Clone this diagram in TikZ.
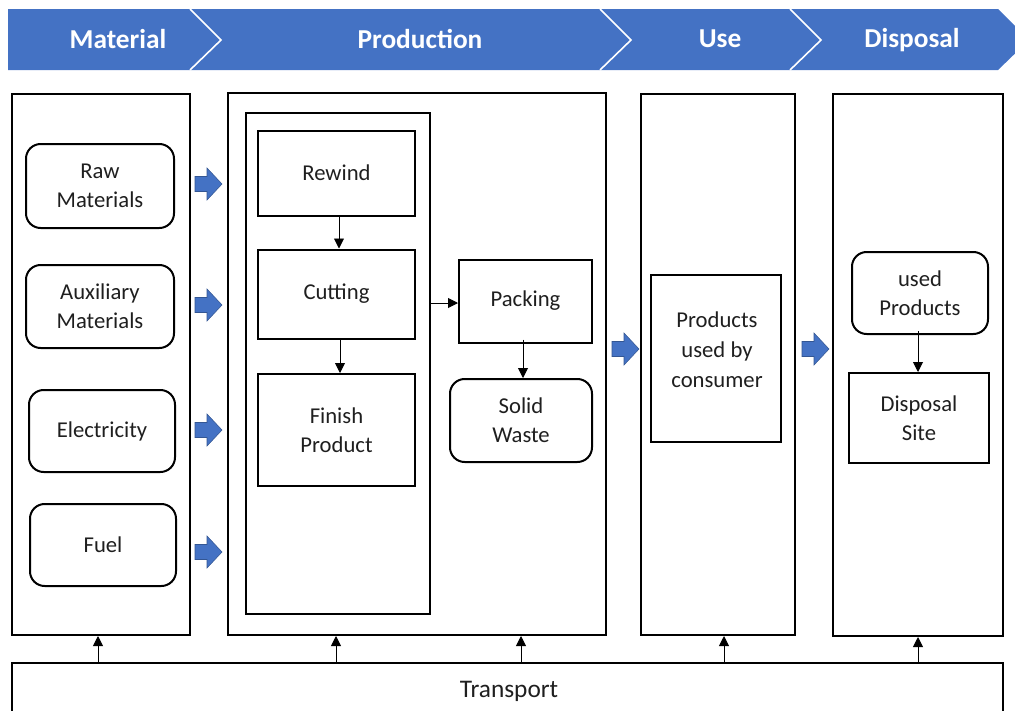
\documentclass[tikz,border=0pt]{standalone}
\usepackage{fontspec}
\setmainfont{Carlito}
\usetikzlibrary{arrows.meta}
\definecolor{hdrblue}{HTML}{4472C4}
\definecolor{txt}{HTML}{1F1F1F}
\tikzset{
  sz/.style 2 args={minimum width=#1*0.75pt, minimum height=#2*0.75pt},
  frame/.style={draw=black, line width=1.5pt, inner sep=0pt},
  box/.style={frame, text=txt, align=center, font=\fontsize{17}{21.5}\selectfont},
  rbox/.style={box, rounded corners=11pt},
  flow/.style={-{Triangle[length=7.5pt,width=7.5pt]}, line width=0.7pt, black},
  hdr/.style={text=white, font=\fontsize{20.5}{24}\selectfont\bfseries},
  pics/blockarrow/.style={code={
    \filldraw[fill=hdrblue, draw=hdrblue!75!black, line width=0.4pt]
      (-13,-7.5) -- (-1,-7.5) -- (-1,-16) -- (14,0) -- (-1,16) -- (-1,7.5) -- (-13,7.5) -- cycle;
  }}
}
\begin{document}
\begin{tikzpicture}[x=0.75pt, y=-0.75pt]
\useasboundingbox (0,0) rectangle (1015,711);

% phase header band with chevron separators
\fill[hdrblue] (8,9) -- (998,9) -- (1029,40) -- (998,70) -- (8,70) -- cycle;
\foreach \sx in {190,600,790}
  \draw[white, line width=1.2pt] (\sx,9) -- (\sx+31,40) -- (\sx,70);
\node[hdr] (hmat) at (118,39) {Material};
\node[hdr] (hprod) at (420,39) {Production};
\node[hdr] (huse) at (720,39) {Use};
\node[hdr] (hdisp) at (912,40) {Disposal};

% column frames
\node[frame, sz={178}{541}] (colmat) at (101,364.5) {};
\node[frame, sz={378}{542}] (colprod) at (417,364) {};
\node[frame, sz={184}{501}] (inner) at (338,363.5) {};
\node[frame, sz={154}{541}] (coluse) at (718,364.5) {};
\node[frame, sz={170}{542}] (coldisp) at (918,365) {};
\node[frame, sz={991}{100}] (transport) at (507.5,713) {};
\node[text=txt, font=\fontsize{19}{23}\selectfont] (translbl) at (509,691) {Transport};

% material inputs
\node[rbox, sz={148}{84}] (raw) at (100,186) {Raw\\Materials};
\node[rbox, sz={148}{83}] (aux) at (100,306.5) {Auxiliary\\Materials};
\node[rbox, sz={146}{82}] (elec) at (102,431) {Electricity};
\node[rbox, sz={146}{82}] (fuel) at (103,545) {Fuel};

% production steps
\node[box, sz={157}{85}] (rewind) at (336.5,173) {Rewind};
\node[box, sz={157}{89}] (cutting) at (336.5,294) {Cutting};
\node[box, sz={157}{112}] (finish) at (336.5,430) {Finish\\Product};
\node[box, sz={133}{83}] (packing) at (525.5,301) {Packing};
\node[rbox, sz={142}{83}] (waste) at (521,420.5) {Solid\\Waste};

% use and disposal
\node[box, sz={130}{167}] (consumer) at (716,358.5) {};
\node[text=txt, align=center, font=\fontsize{17}{22.5}\selectfont] (consumertxt) at (717,350) {Products\\used by\\consumer};
\node[rbox, sz={136}{82}] (usedprod) at (920,293) {used\\Products};
\node[box, sz={140}{90}] (site) at (919,418) {Disposal\\Site};

% block arrows between phases
\foreach \ay/\nm in {184/ba1, 305/ba2, 430/ba3, 552/ba4}
  \pic (\nm) at (208,\ay) {blockarrow};
\pic (ba5) at (625,349) {blockarrow};
\pic (ba6) at (815,349) {blockarrow};

% flow connectors
\draw[flow] (rewind.south -| 339,0) -- (cutting.north -| 339,0);
\draw[flow] (cutting.south -| 340,0) -- (finish.north -| 340,0);
\draw[flow] (inner.east |- 0,303) -- (packing.west |- 0,303);
\draw[flow] (packing.south -| 523,0) ++(0,3pt) -- (waste.north -| 523,0);
\draw[flow] (usedprod.south -| 918,0) ++(0,3pt) -- (site.north -| 918,0);

% transport feeds every phase
\draw[flow] (transport.north -| 98,0) -- (colmat.south -| 98,0);
\draw[flow] (transport.north -| 336,0) -- (colprod.south -| 336,0);
\draw[flow] (transport.north -| 521,0) -- (colprod.south -| 521,0);
\draw[flow] (transport.north -| 724,0) -- (coluse.south -| 724,0);
\draw[flow] (transport.north -| 918,0) -- (coldisp.south -| 918,0);
\end{tikzpicture}
\end{document}
